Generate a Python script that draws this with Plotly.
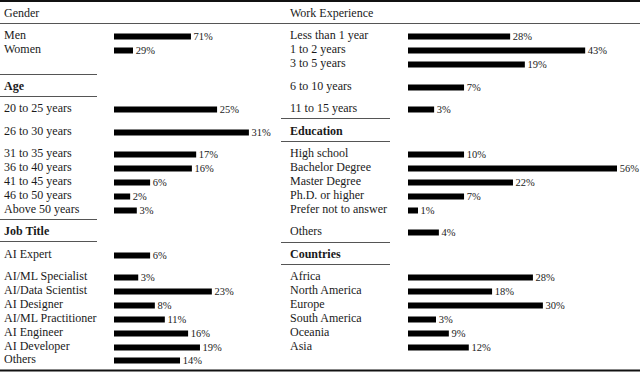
import plotly.graph_objects as go

W, H = 640, 372
FONT = "Liberation Serif, DejaVu Serif, serif"
TEXT_COLOR = "#1a1a1a"
PCT_COLOR = "#222222"
RULE_COLOR = "#555555"
PX_PER_UNIT = 4.75  # bar scale as drawn in the picture

# ---- data (labels, printed share, bar length as drawn) ----
gender_labels = ["Men", "Women"]
gender_pct = [71, 29]
gender_bar = [16.2, 4.0]

age_labels = ["20 to 25 years", "26 to 30 years", "31 to 35 years", "36 to 40 years",
              "41 to 45 years", "46 to 50 years", "Above 50 years"]
age_pct = [25, 31, 17, 16, 6, 2, 3]
age_bar = [21.7, 28.4, 17.3, 16.4, 7.6, 3.4, 4.8]

job_labels = ["AI Expert", "AI/ML Specialist", "AI/Data Scientist", "AI Designer",
              "AI/ML Practitioner", "AI Engineer", "AI Developer", "Others"]
job_pct = [6, 3, 23, 8, 11, 16, 19, 14]
job_bar = [7.6, 5.1, 20.6, 8.6, 10.7, 15.6, 18.1, 13.9]

work_labels = ["Less than 1 year", "1 to 2 years", "3 to 5 years", "6 to 10 years", "11 to 15 years"]
work_pct = [28, 43, 19, 7, 3]
work_bar = [21.5, 37.3, 24.6, 11.8, 5.5]

edu_labels = ["High school", "Bachelor Degree", "Master Degree", "Ph.D. or higher",
              "Prefer not to answer", "Others"]
edu_pct = [10, 56, 22, 7, 1, 4]
edu_bar = [11.8, 44.0, 22.1, 11.8, 2.1, 6.5]

country_labels = ["Africa", "North America", "Europe", "South America", "Oceania", "Asia"]
country_pct = [28, 18, 30, 3, 9, 12]
country_bar = [26.3, 17.7, 28.4, 5.9, 8.6, 12.8]

# ---- table layout (pixel rows from top) ----
HEADER_Y = 13
ROW_Y = [35, 49, 63, 86, 108, 131, 153, 167, 181, 195, 209, 231, 254, 276, 290, 304, 318, 332, 346, 359]

LEFT_TEXT_X, RIGHT_TEXT_X = 2, 288
LEFT_BAR_X, RIGHT_BAR_X = 114, 408

# (column, title, title row, item rows, labels, pct, bar)
sections = [
    ("left", None, None, [0, 1], gender_labels, gender_pct, gender_bar),
    ("left", "Age", 3, [4, 5, 6, 7, 8, 9, 10], age_labels, age_pct, age_bar),
    ("left", "Job Title", 11, [12, 13, 14, 15, 16, 17, 18, 19], job_labels, job_pct, job_bar),
    ("right", None, None, [0, 1, 2, 3, 4], work_labels, work_pct, work_bar),
    ("right", "Education", 5, [6, 7, 8, 9, 10, 11], edu_labels, edu_pct, edu_bar),
    ("right", "Countries", 12, [13, 14, 15, 16, 17, 18], country_labels, country_pct, country_bar),
]

fig = go.Figure()
annotations = []


def label(x, y, text):
    return dict(x=x / W, y=y, xref="paper", yref="y", text=text, showarrow=False,
                xanchor="left", yanchor="middle", font=dict(size=12, color=TEXT_COLOR))


for col, title, title_row, rows, labels, pct, bar in sections:
    ys = [ROW_Y[r] for r in rows]
    tx = LEFT_TEXT_X if col == "left" else RIGHT_TEXT_X
    for lab, y in zip(labels, ys):
        annotations.append(label(tx, y, lab))
    if title:
        annotations.append(label(tx, ROW_Y[title_row], f"<b>{title}</b>"))
    fig.add_trace(go.Bar(
        x=bar,
        y=[v + 1.5 for v in ys],
        orientation="h",
        width=6,
        marker=dict(color="black", line=dict(width=0)),
        text=[f"\u00a0{p}%" for p in pct],
        textposition="outside",
        constraintext="none",
        cliponaxis=False,
        textfont=dict(size=10.5, color=PCT_COLOR, family=FONT),
        xaxis="x" if col == "left" else "x2",
        yaxis="y",
        hoverinfo="skip",
        showlegend=False,
    ))

# column headers
annotations.append(label(LEFT_TEXT_X, HEADER_Y, "Gender"))
annotations.append(label(RIGHT_TEXT_X, HEADER_Y, "Work Experience"))

# rules
shapes = [
    dict(type="line", xref="paper", yref="y", x0=0, x1=1, y0=1, y1=1,
         line=dict(color="#111111", width=2)),
    dict(type="line", xref="paper", yref="y", x0=0, x1=1, y0=23.5, y1=23.5,
         line=dict(color=RULE_COLOR, width=1)),
    dict(type="line", xref="paper", yref="y", x0=0, x1=1, y0=370.5, y1=370.5,
         line=dict(color="#111111", width=2)),
]
left_rules = [74.5, 96.5, 219.5, 241.5]
right_rules = [118.5, 141.5, 242.5, 264.5]
for y in left_rules:
    shapes.append(dict(type="line", xref="paper", yref="y", x0=0, x1=97 / W, y0=y, y1=y,
                       line=dict(color=RULE_COLOR, width=1)))
for y in right_rules:
    shapes.append(dict(type="line", xref="paper", yref="y", x0=281 / W, x1=390 / W, y0=y, y1=y,
                       line=dict(color=RULE_COLOR, width=1)))

left_w, right_w = 200, 220
fig.update_layout(
    width=W,
    height=H,
    margin=dict(l=0, r=0, t=0, b=0),
    paper_bgcolor="white",
    plot_bgcolor="white",
    font=dict(family=FONT, color=TEXT_COLOR),
    showlegend=False,
    barmode="overlay",
    xaxis=dict(domain=[LEFT_BAR_X / W, (LEFT_BAR_X + left_w) / W],
               range=[0, left_w / PX_PER_UNIT], visible=False, fixedrange=True),
    xaxis2=dict(domain=[RIGHT_BAR_X / W, (RIGHT_BAR_X + right_w) / W],
                range=[0, right_w / PX_PER_UNIT], visible=False, anchor="y", fixedrange=True),
    yaxis=dict(domain=[0, 1], range=[H, 0], visible=False, fixedrange=True),
    annotations=annotations,
    shapes=shapes,
)

fig.write_html(
    "out.html",
    config={"displayModeBar": False},
    post_script="document.body.style.margin='0';",
)
